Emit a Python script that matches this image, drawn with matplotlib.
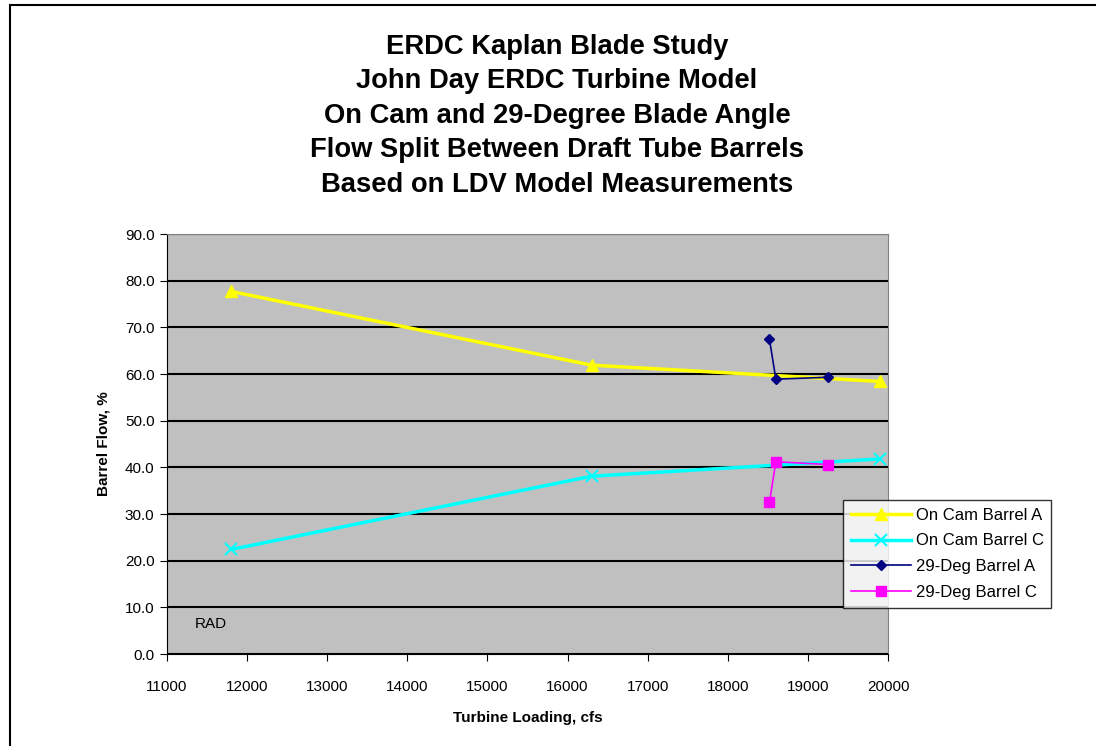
import matplotlib.pyplot as plt
from matplotlib.patches import Rectangle

plt.rcParams['font.family'] = ['Liberation Sans', 'DejaVu Sans']

cam_x = [11800, 16300, 19900]
cam_a = [77.7, 61.9, 58.4]
cam_c = [22.4, 38.1, 41.8]
deg_x = [18520, 18600, 19250]
deg_a = [67.5, 58.9, 59.3]
deg_c = [32.5, 41.2, 40.6]

title = ('ERDC Kaplan Blade Study\nJohn Day ERDC Turbine Model\n'
         'On Cam and 29-Degree Blade Angle\nFlow Split Between Draft Tube Barrels\n'
         'Based on LDV Model Measurements')

fig = plt.figure(figsize=(10.96, 7.46), dpi=100)
ax = fig.add_axes([167/1096, 1 - 654/746, (888-167)/1096, (654-234)/746])
ax.set_facecolor('#c0c0c0')

ax.plot(cam_x, cam_a, color='yellow', lw=2.5, marker='^', ms=9, label='On Cam Barrel A', zorder=3)
ax.plot(cam_x, cam_c, color='cyan', lw=2.5, marker='x', ms=9, mew=1.5, label='On Cam Barrel C', zorder=3)
ax.plot(deg_x, deg_a, color='#000080', lw=1.2, marker='D', ms=5, label='29-Deg Barrel A', zorder=4)
ax.plot(deg_x, deg_c, color='magenta', lw=1.2, marker='s', ms=7, label='29-Deg Barrel C', zorder=4)

ax.set_xlim(11000, 20000)
ax.set_ylim(0, 90)
ax.set_xticks(range(11000, 20001, 1000))
ax.set_yticks(range(0, 91, 10))
ax.set_yticklabels([f'{v:.1f}' for v in range(0, 91, 10)])
ax.yaxis.grid(True, color='black', lw=1.5)
ax.set_axisbelow(True)
ax.tick_params(labelsize=11, direction='out', length=5, pad=14)
ax.tick_params(axis='y', pad=4)
for s in ax.spines.values():
    s.set_color('#808080')
ax.spines['left'].set_color('black')
ax.spines['bottom'].set_color('black')

ax.set_xlabel('Turbine Loading, cfs', fontsize=11, fontweight='bold', labelpad=12)
ax.set_ylabel('Barrel Flow, %', fontsize=11, fontweight='bold', labelpad=10)
ax.text(11350, 5.5, 'RAD', fontsize=11)

fig.text(557/1096, 1 - 34/746, title, ha='center', va='top', fontsize=19.7,
         fontweight='bold', linespacing=1.42)

leg = ax.legend(loc='upper left', bbox_to_anchor=(843/1096, 1 - 500/746),
                bbox_transform=fig.transFigure, fontsize=12, frameon=True,
                fancybox=False, edgecolor='black', borderpad=0.45,
                labelspacing=0.65, handlelength=3.6, handletextpad=0.3,
                borderaxespad=0)
leg.get_frame().set_linewidth(1)

fig.patches.append(Rectangle((10/1096, -0.1), 1.2, 1.1 - 5/746, transform=fig.transFigure,
                             fill=False, edgecolor='black', lw=1.5))

fig.savefig('out.png', dpi=100)
